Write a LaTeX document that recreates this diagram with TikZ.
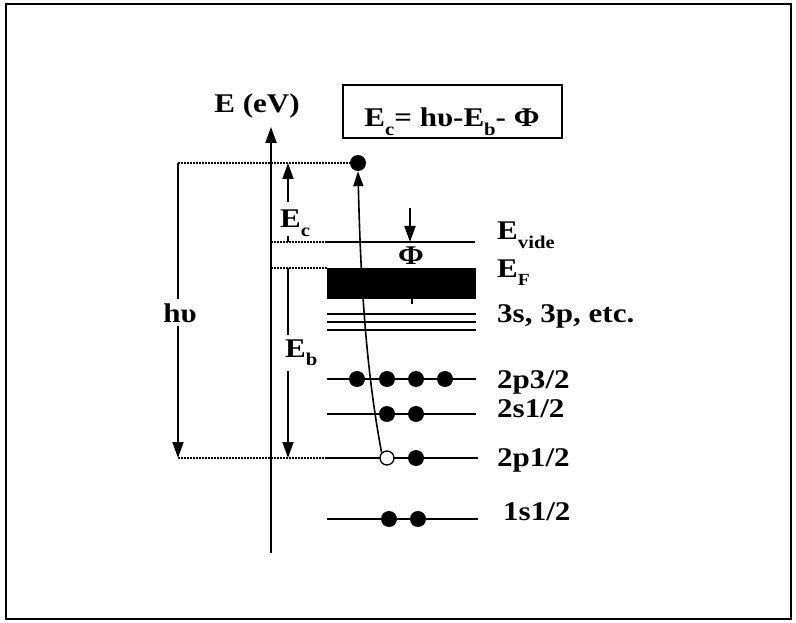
\documentclass[tikz,border=0pt]{standalone}
\usepackage{fontspec}
\setmainfont{Liberation Serif}[FakeStretch=1.15]
\usetikzlibrary{arrows.meta}
\newcommand{\lowtxt}[1]{\raisebox{-0.3em}{\fontsize{18}{18}\selectfont #1}}
\begin{document}
\begin{tikzpicture}[x=1pt,y=-1pt,
  font=\fontsize{27}{30}\selectfont\bfseries,
  level/.style={line width=1.6pt},
  dots/.style={line width=1.3pt, dash pattern=on 1.5pt off 1.5pt},
  elec/.style={circle, fill=black, inner sep=0pt, minimum size=16pt},
  hole/.style={circle, draw, fill=white, line width=1.3pt, inner sep=0pt, minimum size=14pt},
  arr/.style={line width=1.8pt, -{Triangle[length=16pt,width=11pt]}},
  plain/.style={line width=1.8pt},
  lab/.style={anchor=base west, inner sep=0pt},
  gap/.style={inner sep=4pt}]
\useasboundingbox (0,0) rectangle (796,623);
\draw[line width=2.4pt] (6,4) rectangle (791,619);
% axis
\coordinate (ax0) at (271,553);
\coordinate (ax1) at (271,127);
\draw[line width=2pt, -{Triangle[length=16pt,width=11pt]}] (ax0) -- (ax1);
\node[anchor=base] (elab) at (257,113) {E (eV)};
% formula box
\node[draw, line width=1.2pt, minimum width=219pt, minimum height=53pt] (box) at (452.5,111.5) {};
\node[anchor=base] (formula) at (452,127) {E\lowtxt{c}= hυ-E\lowtxt{b}- Φ};
% coordinates
\coordinate (hvt) at (178,163);
\coordinate (hvb) at (178,458);
\coordinate (d1) at (352,163);
\coordinate (dv0) at (271,242);
\coordinate (dv1) at (327,242);
\coordinate (df0) at (271,268);
\coordinate (df1) at (327,268);
\coordinate (dp1) at (327,458);
% dotted lines
\draw[dots] (hvt) -- (d1);
\draw[dots] (dv0) -- (dv1);
\draw[dots] (df0) -- (df1);
\draw[dots] (hvb) -- (dp1);
% levels
\coordinate (v1) at (475,242);
\draw[level] (dv1) -- (v1);
\fill (327,268) rectangle (476,299);
\foreach \yy in {314,322,330} \draw[level] (327,\yy) -- (476,\yy);
\coordinate (a0) at (327,379); \coordinate (a1) at (476,379);
\coordinate (b0) at (327,414); \coordinate (b1) at (476,414);
\coordinate (c1) at (478,458);
\coordinate (e0) at (327,519); \coordinate (e1) at (478,519);
\draw[level] (a0) -- (a1);
\draw[level] (b0) -- (b1);
\draw[level] (dp1) -- (c1);
\draw[level] (e0) -- (e1);
% electrons
\node[elec] (etop) at (358,163) {};
\node[elec] (a11) at (357,379) {};
\node[elec] (a12) at (387,379) {};
\node[elec] (a13) at (416,379) {};
\node[elec] (a14) at (445,379) {};
\node[elec] (b11) at (387,414) {};
\node[elec] (b12) at (416,414) {};
\node[hole] (h1) at (387,458) {};
\node[elec] (c12) at (416,458) {};
\node[elec] (e11) at (389,519) {};
\node[elec] (e12) at (418,519) {};
% excitation curve
\draw[line width=1.6pt, -{Triangle[length=15pt,width=10pt]}] (h1.135) .. controls (368,380) and (361,300) .. (etop.south);
% h nu arrow
\node[gap, anchor=base] (hv) at (180,322) {hυ};
\draw[plain] (hvt) -- (hv.north -| hvt);
\draw[arr] (hv.south -| hvb) -- (hvb);
% Ec arrow
\coordinate (ect0) at (288,242);
\coordinate (ect1) at (288,163);
\node[lab] (ec) at (280,228) {E\lowtxt{c}};
\draw[arr] ([yshift=8pt]ec.north -| ect1) -- (ect1);
\draw[plain] (ect0) -- ++(0,-6);
% Eb arrow
\coordinate (eb0) at (288,268);
\coordinate (eb1) at (288,458);
\node[lab] (eb) at (285,357) {E\lowtxt{b}};
\draw[plain] (eb0) -- ([yshift=4pt]eb.north -| eb0);
\draw[arr] ([yshift=-6pt]eb.south -| eb1) -- (eb1);
% Phi arrow
\coordinate (p0) at (410,208);
\coordinate (p1) at (410,242);
\draw[arr] (p0) -- (p1);
\node[anchor=base] (phi) at (411,265) {Φ};
\coordinate (t0) at (412,299);
\coordinate (t1) at (412,304);
\draw[line width=1.4pt] (t0) -- (t1);
% right labels
\node[lab] (lv) at (497,240) {E\lowtxt{vide}};
\node[lab] (lf) at (497,277) {E\lowtxt{\fontsize{17}{17}\selectfont F}};
\node[lab] (l3) at (497,322) {3s, 3p, etc.};
\node[lab] (l4) at (497,388) {2p3/2};
\node[lab] (l5) at (497,417) {2s1/2};
\node[lab] (l6) at (497,466) {2p1/2};
\node[lab] (l7) at (503,520) {1s1/2};
\end{tikzpicture}
\end{document}
